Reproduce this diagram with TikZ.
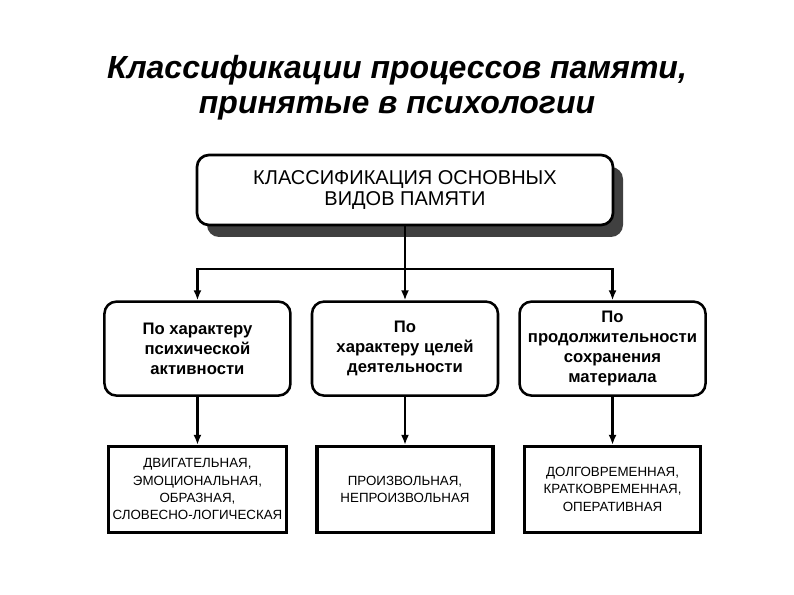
\documentclass[tikz,border=0pt]{standalone}
\usepackage{fontspec}
\setmainfont{Liberation Sans}
\usetikzlibrary{arrows.meta,positioning,shadows,calc}

\begin{document}
\begin{tikzpicture}[x=0.75pt,y=-0.75pt,
  heading/.style={align=center,font=\fontsize{24}{26}\selectfont\bfseries\itshape},
  root/.style={draw,line width=2pt,rounded corners=9pt,minimum width=312pt,minimum height=52.5pt,align=center,fill=white,font=\fontsize{15}{16}\selectfont,drop shadow={shadow xshift=7.5pt,shadow yshift=-9pt,fill=black!75,opacity=1}},
  kind/.style={draw,line width=1.9pt,rounded corners=9pt,minimum width=139.5pt,minimum height=70.5pt,align=center,inner sep=2pt,font=\fontsize{12.5}{15}\selectfont\bfseries},
  item/.style={draw,line width=2.3pt,minimum width=132pt,minimum height=64.5pt,align=center,font=\fontsize{10}{13}\selectfont},
  arrow/.style={-{Latex[length=7.5pt,width=6pt]},line width=1.6pt}
]
  \useasboundingbox (0,0) rectangle (794,595);
  \node[heading] (head) at (397,88) {Классификации процессов памяти,\\принятые в психологии};
  \node[root] (top) at (405,190) {КЛАССИФИКАЦИЯ ОСНОВНЫХ\\ВИДОВ ПАМЯТИ};
  \node[kind,below=55.5pt of top] (purpose) {По\\характеру целей\\деятельности};
  \node[kind,left=14.25pt of purpose] (activity) {По характеру\\психической\\активности};
  \node[kind,right=14.25pt of purpose] (duration) {По\\продолжительности\\сохранения\\материала};
  \node[item,below=36pt of activity] (motor) {ДВИГАТЕЛЬНАЯ,\\ЭМОЦИОНАЛЬНАЯ,\\ОБРАЗНАЯ,\\СЛОВЕСНО-ЛОГИЧЕСКАЯ};
  \node[item,below=36pt of purpose] (will) {ПРОИЗВОЛЬНАЯ,\\НЕПРОИЗВОЛЬНАЯ};
  \node[item,below=36pt of duration] (span) {ДОЛГОВРЕМЕННАЯ,\\КРАТКОВРЕМЕННАЯ,\\ОПЕРАТИВНАЯ};

  \coordinate (split) at ($(top.south)!0.58!(purpose.north)$);
  \draw[arrow] (top) -- (purpose);
  \draw[arrow] (split) -| (activity);
  \draw[arrow] (split) -| (duration);
  \draw[arrow] (activity) -- (motor);
  \draw[arrow] (purpose) -- (will);
  \draw[arrow] (duration) -- (span);
\end{tikzpicture}
\end{document}
